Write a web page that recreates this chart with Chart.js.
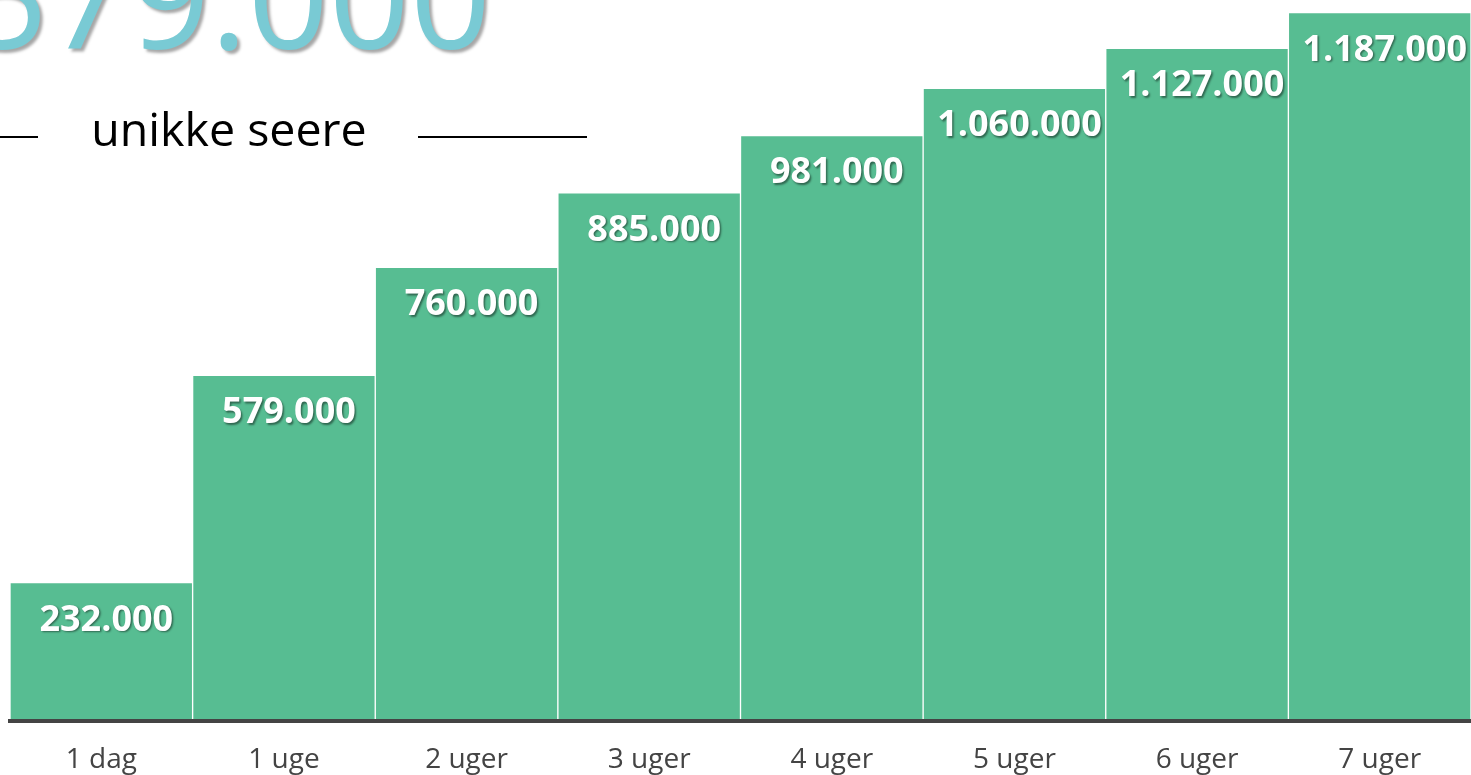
<!DOCTYPE html>
<html>
<head>
<meta charset="utf-8">
<script src="https://cdn.jsdelivr.net/npm/chart.js@4"></script>
<style>
html,body{margin:0;padding:0;background:#fff;overflow:hidden;}
#wrap{position:relative;width:1471px;height:775px;}
canvas{display:block;}
</style>
</head>
<body>
<div id="wrap"><canvas id="c" width="1471" height="775"></canvas></div>
<script>
const categories = ["1 dag", "1 uge", "2 uger", "3 uger", "4 uger", "5 uger", "6 uger", "7 uger"];
const viewers = [232000, 579000, 760000, 885000, 981000, 1060000, 1127000, 1187000];
const headline = "579.000";
const subtitle = "unikke seere";
const yMax = 1208000;

function fmt(v){ return String(v).replace(/\B(?=(\d{3})+(?!\d))/g, "."); }

const FONT = "'Open Sans', 'Noto Sans', sans-serif";

const headerPlugin = {
  id: 'header',
  afterDraw(chart){
    const ctx = chart.ctx;
    ctx.save();
    ctx.font = "142px " + FONT;
    ctx.textAlign = 'center';
    ctx.textBaseline = 'alphabetic';
    ctx.shadowColor = 'rgba(0,0,0,0.35)';
    ctx.shadowOffsetX = 3; ctx.shadowOffsetY = 3; ctx.shadowBlur = 3;
    ctx.fillStyle = '#79CAD4';
    ctx.fillText(headline, 229, 49);
    ctx.restore();
    ctx.save();
    ctx.font = "46.5px " + FONT;
    ctx.textAlign = 'center';
    ctx.textBaseline = 'alphabetic';
    ctx.fillStyle = '#000';
    ctx.fillText(subtitle, 229, 146);
    ctx.strokeStyle = '#000';
    ctx.lineWidth = 2;
    ctx.beginPath();
    ctx.moveTo(-10, 137); ctx.lineTo(38, 137);
    ctx.moveTo(418, 137); ctx.lineTo(587, 137);
    ctx.stroke();
    ctx.restore();
  }
};

const valueLabels = {
  id: 'valueLabels',
  afterDatasetsDraw(chart){
    const ctx = chart.ctx;
    const meta = chart.getDatasetMeta(0);
    ctx.save();
    ctx.font = "bold 36px " + FONT;
    ctx.textAlign = 'center';
    ctx.textBaseline = 'alphabetic';
    ctx.fillStyle = '#fff';
    ctx.shadowColor = 'rgba(0,0,0,0.45)';
    ctx.shadowOffsetX = 1.5; ctx.shadowOffsetY = 1.5; ctx.shadowBlur = 2;
    meta.data.forEach((bar, i) => {
      ctx.fillText(fmt(viewers[i]), bar.x + 5, bar.y + 48);
    });
    ctx.restore();
  }
};

new Chart(document.getElementById('c'), {
  type: 'bar',
  data: {
    labels: categories,
    datasets: [{
      data: viewers,
      backgroundColor: '#57BD92',
      borderColor: 'rgba(255,255,255,0.7)',
      borderWidth: 1,
      categoryPercentage: 1,
      barPercentage: 1
    }]
  },
  options: {
    responsive: false,
    animation: false,
    devicePixelRatio: 1,
    layout: { padding: { left: 10, right: 0, top: 0, bottom: 0 } },
    plugins: { legend: { display: false }, tooltip: { enabled: false }, title: { display: false } },
    scales: {
      y: { display: false, min: 0, max: yMax },
      x: {
        grid: { display: false, drawTicks: false },
        border: { display: true, color: '#444', width: 4, z: 1 },
        ticks: { color: '#444', font: { family: FONT, size: 28 }, padding: 22, maxRotation: 0 },
        afterFit(scale){ scale.height = 54; }
      }
    }
  },
  plugins: [valueLabels, headerPlugin]
});
</script>
</body>
</html>
